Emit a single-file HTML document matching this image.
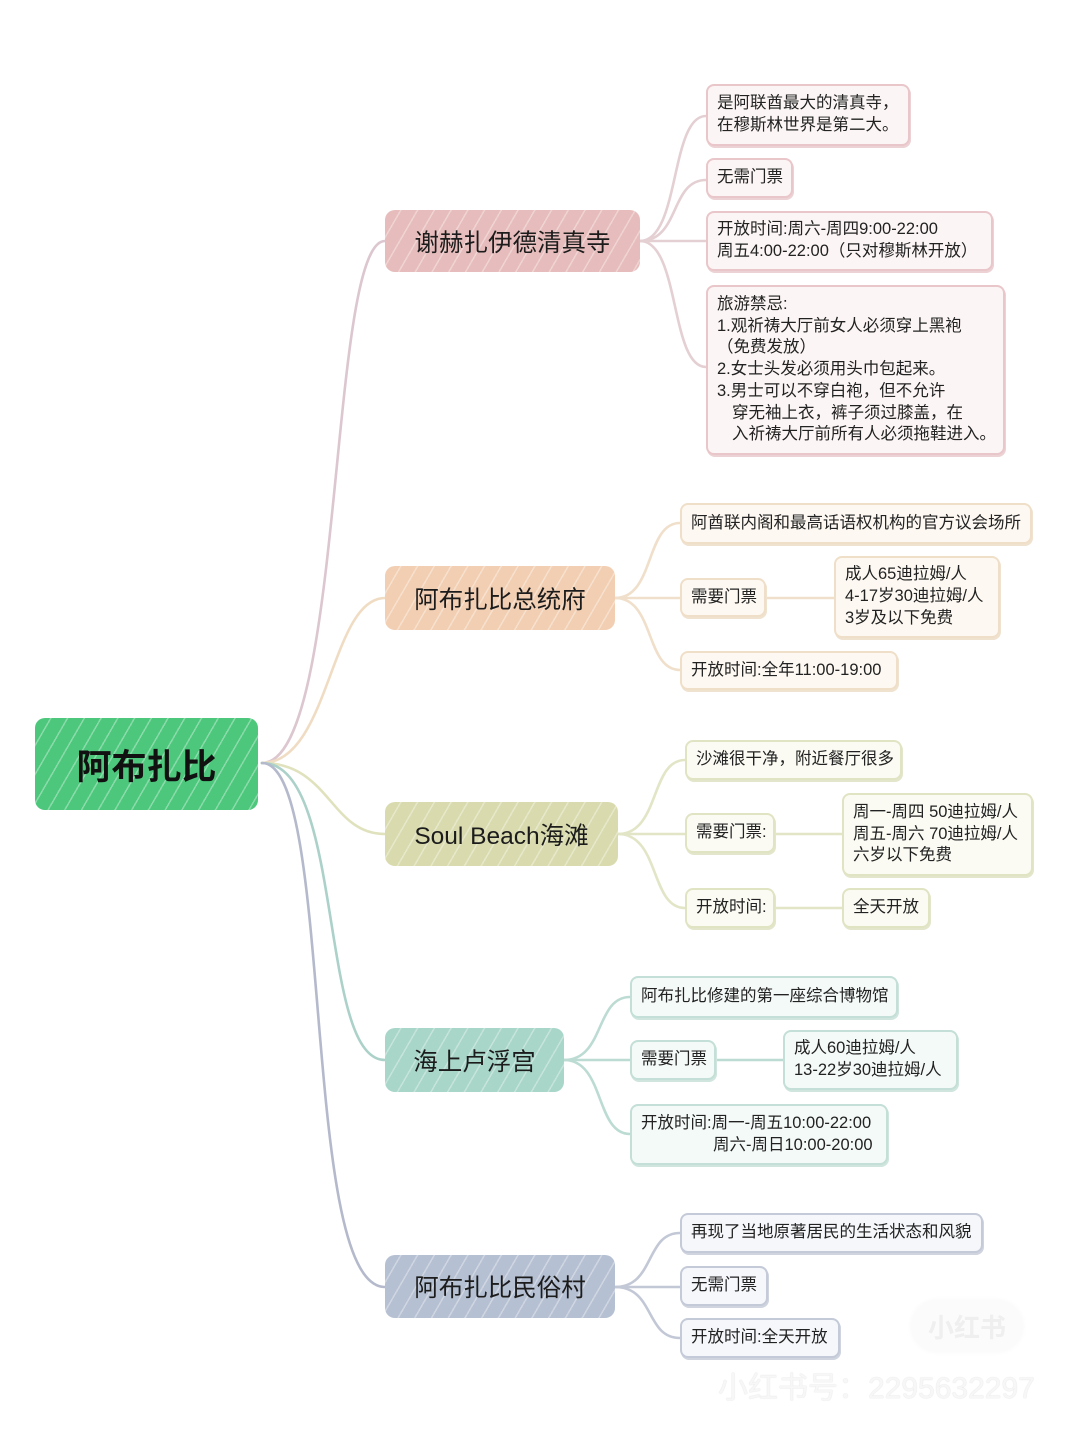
<!DOCTYPE html>
<html><head><meta charset="utf-8">
<style>
html,body{margin:0;padding:0;}
body{width:1078px;height:1437px;position:relative;background:#fff;overflow:hidden;font-family:"Liberation Sans","Noto Sans CJK SC",sans-serif;color:#222;}
svg{position:absolute;left:0;top:0;}
.b{position:absolute;display:flex;align-items:center;justify-content:center;border-radius:10px;font-size:24.5px;color:#1c1c1c;white-space:nowrap;}
.h{background-image:repeating-linear-gradient(120deg,rgba(255,255,255,0) 0 13px,rgba(255,255,255,0.35) 13px 14.5px);}
.l{position:absolute;box-sizing:border-box;border-radius:8px;border:2px solid;font-size:16.5px;line-height:21.7px;padding-left:9px;white-space:nowrap;display:flex;flex-direction:column;justify-content:center;}
.p{border-color:#e9c6c9;background:#fcf5f5;box-shadow:1px 2px 0 #ecd2d4;}
.o{border-color:#f0dfc8;background:#fdf9f2;box-shadow:1px 2px 0 #efe2cf;}
.g{border-color:#e1e4c3;background:#fbfbf3;box-shadow:1px 2px 0 #e3e6cb;}
.t{border-color:#c3dfd7;background:#f4faf8;box-shadow:1px 2px 0 #cfe5de;}
.u{border-color:#c4cad8;background:#f5f7fa;box-shadow:1px 2px 0 #cfd4df;}
</style></head><body>
<svg width="1078" height="1437" viewBox="0 0 1078 1437" fill="none" stroke-width="2.6" stroke-linecap="round">
<path d="M262,763 C345,763 328,241 385,241" stroke="#dcc6cf"/>
<path d="M262,763 C330,763 330,598 385,598" stroke="#f0dcc3"/>
<path d="M262,763 C330,763 330,834 385,834" stroke="#e0e2bd"/>
<path d="M262,763 C345,763 318,1060 385,1060" stroke="#abd1c8"/>
<path d="M262,763 C335,763 300,1287 385,1287" stroke="#b4b9cc"/>
<g stroke="#e4cfd3">
<path d="M640,241 C680,241 670,116 706,116"/>
<path d="M640,241 C680,241 670,180 706,180"/>
<path d="M640,241 L706,241"/>
<path d="M640,241 C680,241 670,367 706,367"/>
</g>
<g stroke="#f0dfca">
<path d="M615,598 C655,598 645,523 680,523"/>
<path d="M615,598 L680,598"/>
<path d="M766,598 L834,598"/>
<path d="M615,598 C655,598 645,670 680,670"/>
</g>
<g stroke="#e2e5c6">
<path d="M618,834 C660,834 650,760 685,760"/>
<path d="M618,834 L685,834"/>
<path d="M775,834 L842,834"/>
<path d="M618,834 C660,834 650,908 685,908"/>
<path d="M775,908 L842,908"/>
</g>
<g stroke="#bcdbd3">
<path d="M564,1060 C605,1060 595,997 630,997"/>
<path d="M564,1060 L630,1060"/>
<path d="M716,1060 L783,1060"/>
<path d="M564,1060 C605,1060 595,1134 630,1134"/>
</g>
<g stroke="#c3c8d6">
<path d="M615,1287 C655,1287 645,1233 680,1233"/>
<path d="M615,1287 L680,1287"/>
<path d="M615,1287 C655,1287 645,1338 680,1338"/>
</g>
</svg>

<div class="b h" style="left:35px;top:718px;width:223px;height:92px;background-color:#4cc77c;font-size:35px;font-weight:bold;color:#111;">阿布扎比</div>

<div class="b h" style="left:385px;top:210px;width:255px;height:62px;background-color:#e6bdbc;">谢赫扎伊德清真寺</div>
<div class="b h" style="left:385px;top:566px;width:230px;height:64px;background-color:#f2cfb3;">阿布扎比总统府</div>
<div class="b h" style="left:385px;top:802px;width:233px;height:64px;background-color:#d9dbae;">Soul Beach海滩</div>
<div class="b h" style="left:385px;top:1028px;width:179px;height:64px;background-color:#a8d6c9;">海上卢浮宫</div>
<div class="b h" style="left:385px;top:1255px;width:230px;height:63px;background-color:#b5c0d3;">阿布扎比民俗村</div>

<div class="l p" style="left:706px;top:84px;width:204px;height:62px;"><div>是阿联酋最大的清真寺，</div><div>在穆斯林世界是第二大。</div></div>
<div class="l p" style="left:706px;top:158px;width:87px;height:40px;"><div>无需门票</div></div>
<div class="l p" style="left:706px;top:211px;width:287px;height:60px;"><div>开放时间:周六-周四9:00-22:00</div><div>周五4:00-22:00（只对穆斯林开放）</div></div>
<div class="l p" style="left:706px;top:285px;width:299px;height:170px;"><div>旅游禁忌:</div><div>1.观祈祷大厅前女人必须穿上黑袍</div><div>（免费发放）</div><div>2.女士头发必须用头巾包起来。</div><div>3.男士可以不穿白袍，但不允许</div><div style="padding-left:15px">穿无袖上衣，裤子须过膝盖，在</div><div style="padding-left:15px">入祈祷大厅前所有人必须拖鞋进入。</div></div>

<div class="l o" style="left:680px;top:503px;width:352px;height:41px;"><div>阿酋联内阁和最高话语权机构的官方议会场所</div></div>
<div class="l o" style="left:680px;top:578px;width:86px;height:39px;"><div>需要门票</div></div>
<div class="l o" style="left:834px;top:556px;width:166px;height:82px;"><div>成人65迪拉姆/人</div><div>4-17岁30迪拉姆/人</div><div>3岁及以下免费</div></div>
<div class="l o" style="left:680px;top:651px;width:218px;height:39px;"><div>开放时间:全年11:00-19:00</div></div>

<div class="l g" style="left:685px;top:740px;width:217px;height:40px;"><div>沙滩很干净，附近餐厅很多</div></div>
<div class="l g" style="left:685px;top:813px;width:90px;height:40px;"><div>需要门票:</div></div>
<div class="l g" style="left:842px;top:793px;width:191px;height:83px;"><div>周一-周四 50迪拉姆/人</div><div>周五-周六 70迪拉姆/人</div><div>六岁以下免费</div></div>
<div class="l g" style="left:685px;top:888px;width:90px;height:40px;"><div>开放时间:</div></div>
<div class="l g" style="left:842px;top:888px;width:88px;height:40px;"><div>全天开放</div></div>

<div class="l t" style="left:630px;top:976px;width:268px;height:42px;"><div>阿布扎比修建的第一座综合博物馆</div></div>
<div class="l t" style="left:630px;top:1040px;width:86px;height:40px;"><div>需要门票</div></div>
<div class="l t" style="left:783px;top:1030px;width:175px;height:60px;"><div>成人60迪拉姆/人</div><div>13-22岁30迪拉姆/人</div></div>
<div class="l t" style="left:630px;top:1104px;width:258px;height:61px;"><div>开放时间:周一-周五10:00-22:00</div><div style="padding-left:72px">周六-周日10:00-20:00</div></div>

<div class="l u" style="left:680px;top:1213px;width:303px;height:40px;"><div>再现了当地原著居民的生活状态和风貌</div></div>
<div class="l u" style="left:680px;top:1266px;width:88px;height:40px;"><div>无需门票</div></div>
<div class="l u" style="left:680px;top:1318px;width:160px;height:40px;"><div>开放时间:全天开放</div></div>

<div style="position:absolute;left:911px;top:1300px;width:112px;height:52px;border-radius:26px;background:#fbfbfb;box-shadow:0 0 6px rgba(0,0,0,0.03);display:flex;align-items:center;justify-content:center;font-size:26px;font-weight:bold;color:#efefef;">小红书</div>
<div style="position:absolute;left:718px;top:1370px;font-size:30px;line-height:38px;color:#f7f7f7;text-shadow:0 0 1px #d0d0d0;white-space:nowrap;">小红书号：2295632297</div>
</body></html>
